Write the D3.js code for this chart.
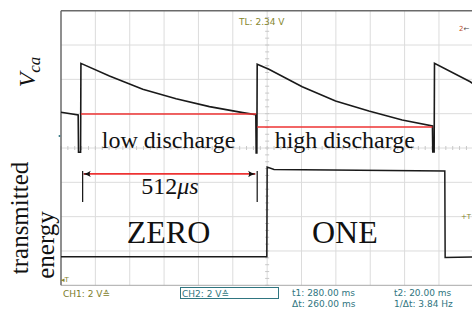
<!DOCTYPE html>
<html>
<head>
<meta charset="utf-8">
<script src="https://cdn.jsdelivr.net/npm/d3@7"></script>
<style>
  body { margin: 0; background: #fff; }
  svg { display: block; }
</style>
</head>
<body>
<div id="chart"></div>
<script>
// Values: time in microseconds, screen volts (2 V/div)
var ch1Time = [0, 50, 51, 57, 58, 141, 238, 335, 432, 529, 567, 568, 570, 571, 605, 702, 799, 896, 993, 1081, 1082, 1086, 1087, 1191, 1200];
var ch1Volt = [2.08, 1.92, -0.25, -0.25, 4.93, 4.19, 3.42, 2.87, 2.41, 2.06, 1.94, -0.29, -0.29, 4.88, 4.59, 3.57, 2.74, 2.16, 1.63, 1.28, -0.23, -0.23, 4.93, 3.86, 3.73];

var ch2Time = [0, 599, 600, 620, 1117, 1118, 1200];
var ch2Volt = [-6.33, -6.33, -1.11, -1.25, -1.34, -6.38, -6.35];

// red discharge levels
var dischargeLabels = ["low discharge", "high discharge"];
var dischargeStart = [58, 571];
var dischargeEnd = [568, 1081];
var dischargeVolt = [1.98, 1.22];

var bitLabels = ["ZERO", "ONE"];

// bit period arrow
var periodStart = 63, periodEnd = 571, periodVolt = -1.51;
var periodBar = [-1.34, -3.15];

var statusLeft = ["CH1: 2 V\u2259", "CH2: 2 V\u2259"];
var cursorText = ["t1: 280.00 ms", "\u0394t: 260.00 ms", "t2: 20.00 ms", "1/\u0394t: 3.84 Hz"];

var W = 472, H = 309;
var svg = d3.select("#chart").append("svg")
  .attr("width", W).attr("height", H)
  .style("font-family", "'Liberation Serif', 'Times New Roman', serif");

var x = d3.scaleLinear().domain([0, 1200]).range([61, 61 + 12 * 34.36]);
var y = d3.scaleLinear().domain([-8, 8]).range([285.3, 10.7]);

var sans = "'DejaVu Sans', sans-serif";

// grid
var grid = svg.append("g").attr("stroke", "#dcdcdc").attr("stroke-width", 1);
grid.selectAll(".gx").data(d3.range(100, 1201, 100)).enter().append("line")
  .attr("x1", function(d) { return x(d); }).attr("x2", function(d) { return x(d); })
  .attr("y1", y(8)).attr("y2", y(-8));
grid.selectAll(".gy").data(d3.range(-6, 8, 2)).enter().append("line")
  .attr("x1", x(0)).attr("x2", W)
  .attr("y1", function(d) { return y(d); }).attr("y2", function(d) { return y(d); });

// minor ticks on the centre lines
var ticks = svg.append("g").attr("stroke", "#c8c8c8").attr("stroke-width", 1);
ticks.selectAll(".tx").data(d3.range(0, 1201, 20)).enter().append("line")
  .attr("x1", function(d) { return x(d); }).attr("x2", function(d) { return x(d); })
  .attr("y1", y(0) - 2).attr("y2", y(0) + 2);
ticks.selectAll(".ty").data(d3.range(-8, 8.01, 0.4)).enter().append("line")
  .attr("x1", x(600) - 2).attr("x2", x(600) + 2)
  .attr("y1", function(d) { return y(d); }).attr("y2", function(d) { return y(d); });

// frame
svg.append("line").attr("x1", x(0)).attr("x2", W).attr("y1", y(-8)).attr("y2", y(-8))
  .attr("stroke", "#a8a8a8").attr("stroke-width", 1);
svg.append("line").attr("x1", x(0)).attr("x2", W).attr("y1", y(8)).attr("y2", y(8))
  .attr("stroke", "#6a6a6a").attr("stroke-width", 1.5);
svg.append("line").attr("x1", x(0)).attr("x2", x(0)).attr("y1", y(8)).attr("y2", y(-8))
  .attr("stroke", "#6a6a6a").attr("stroke-width", 1.5);

// traces
var line = d3.line().x(function(d) { return x(d[0]); }).y(function(d) { return y(d[1]); });
svg.append("path").datum(d3.zip(ch1Time, ch1Volt)).attr("d", line)
  .attr("fill", "none").attr("stroke", "#1a1a1a").attr("stroke-width", 1.6);
svg.append("path").datum(d3.zip(ch2Time, ch2Volt)).attr("d", line)
  .attr("fill", "none").attr("stroke", "#1a1a1a").attr("stroke-width", 1.5);

// red discharge levels
svg.selectAll(".lvl").data(dischargeVolt).enter().append("line")
  .attr("x1", function(d, i) { return x(dischargeStart[i]); })
  .attr("x2", function(d, i) { return x(dischargeEnd[i]); })
  .attr("y1", function(d) { return y(d); }).attr("y2", function(d) { return y(d); })
  .attr("stroke", "#ee3333").attr("stroke-width", 1.6);

svg.selectAll(".dl").data(dischargeLabels).enter().append("text")
  .attr("x", function(d, i) { return x((dischargeStart[i] + dischargeEnd[i]) / 2); })
  .attr("y", y(0))
  .attr("text-anchor", "middle").style("font-size", "24px").attr("fill", "#111")
  .text(function(d) { return d; });

svg.selectAll(".bit").data(bitLabels).enter().append("text")
  .attr("x", function(d, i) { return x((dischargeStart[i] + dischargeEnd[i]) / 2); })
  .attr("y", 243)
  .attr("text-anchor", "middle").style("font-size", "32px").attr("fill", "#111")
  .text(function(d) { return d; });

// period arrow
var defs = svg.append("defs");
defs.append("marker").attr("id", "ah").attr("viewBox", "0 -5 10 10")
  .attr("refX", 9).attr("refY", 0).attr("markerWidth", 8).attr("markerHeight", 8)
  .attr("markerUnits", "userSpaceOnUse").attr("orient", "auto-start-reverse")
  .append("path").attr("d", "M0,-4 Q4,-1 10,0 Q4,1 0,4 Q3,0 0,-4Z").attr("fill", "#111");

svg.append("line")
  .attr("x1", x(periodStart) + 1).attr("x2", x(periodEnd) - 2)
  .attr("y1", y(periodVolt)).attr("y2", y(periodVolt))
  .attr("stroke", "#ee3333").attr("stroke-width", 1.6)
  .attr("marker-start", "url(#ah)").attr("marker-end", "url(#ah)");
svg.selectAll(".bar").data([periodStart, periodEnd]).enter().append("line")
  .attr("x1", function(d) { return x(d); }).attr("x2", function(d) { return x(d); })
  .attr("y1", y(periodBar[0])).attr("y2", y(periodBar[1]))
  .attr("stroke", "#111").attr("stroke-width", 1.2);

var pl = svg.append("text").attr("x", x((periodStart + periodEnd) / 2)).attr("y", 194)
  .attr("text-anchor", "middle").style("font-size", "24px").attr("fill", "#111");
pl.append("tspan").text("512");
pl.append("tspan").style("font-style", "italic").text("\u03bcs");

// axis titles
var vca = svg.append("text").attr("transform", "translate(35,72) rotate(-90)")
  .attr("text-anchor", "middle").style("font-size", "24px").style("font-style", "italic").attr("fill", "#111");
vca.append("tspan").text("V");
vca.append("tspan").attr("dy", 5).style("font-size", "17px").text("ca");

svg.append("text").attr("transform", "translate(28,218) rotate(-90)")
  .attr("text-anchor", "middle").style("font-size", "25px").attr("fill", "#111").text("transmitted");
svg.append("text").attr("transform", "translate(54,245) rotate(-90)")
  .attr("text-anchor", "middle").style("font-size", "25px").attr("fill", "#111").text("energy");

// scope annotations
svg.append("text").attr("x", 239).attr("y", 25).style("font-family", sans).style("font-size", "9px")
  .attr("fill", "#86862e").text("TL:  2.34 V");
svg.append("text").attr("x", 459).attr("y", 31).style("font-family", sans).style("font-size", "7px")
  .attr("fill", "#c0502a").text("2").append("tspan").attr("fill", "#444").text("\u2190");
svg.append("text").attr("x", 461).attr("y", 219).style("font-family", sans).style("font-size", "7px")
  .attr("fill", "#86862e").text("+T");
svg.append("text").attr("x", 61).attr("y", 282).style("font-family", sans).style("font-size", "7px")
  .attr("fill", "#86862e").text("\u25c2T");
svg.append("circle").attr("cx", 59.5).attr("cy", 136).attr("r", 1).attr("fill", "#2f7580");

// status bar
svg.append("text").attr("x", 63).attr("y", 297).style("font-family", sans).style("font-size", "9px")
  .attr("fill", "#7c7c2a").text(statusLeft[0]);
svg.append("rect").attr("x", 180.5).attr("y", 287.5).attr("width", 98).attr("height", 11)
  .attr("fill", "none").attr("stroke", "#2f7580").attr("stroke-width", 1);
svg.append("text").attr("x", 182).attr("y", 297).style("font-family", sans).style("font-size", "9px")
  .attr("fill", "#2f7580").text(statusLeft[1]);
svg.selectAll(".cur").data(cursorText).enter().append("text")
  .attr("x", function(d, i) { return i < 2 ? 292 : 394; })
  .attr("y", function(d, i) { return i % 2 === 0 ? 296 : 307; })
  .style("font-family", sans).style("font-size", "9px").attr("fill", "#2f7580")
  .text(function(d) { return d; });
</script>
</body>
</html>
